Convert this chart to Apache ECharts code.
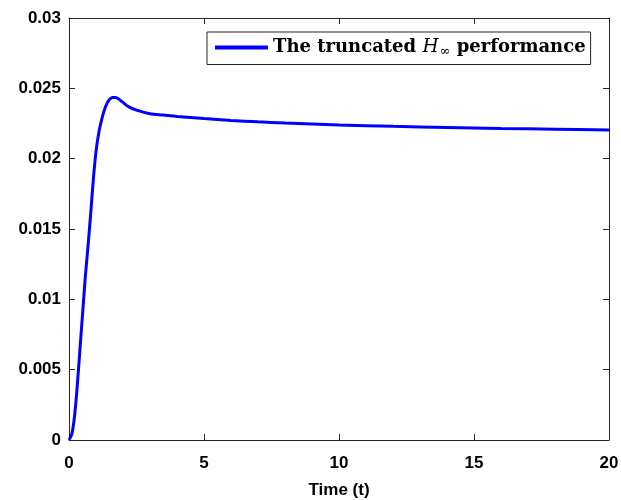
<!DOCTYPE html>
<html>
<head>
<meta charset="utf-8">
<script src="https://cdn.jsdelivr.net/npm/echarts@6/dist/echarts.min.js"></script>
<style>
  html, body { margin: 0; padding: 0; background: #fff; }
  #chart { width: 621px; height: 500px; }
</style>
</head>
<body>
<div id="chart"></div>
<script>
// Truncated H-infinity performance over time
const timeValues = [0, 0.1, 0.2, 0.3, 0.4, 0.5, 0.6, 0.7, 0.8, 0.9, 1.0, 1.1, 1.2, 1.3, 1.4, 1.5, 1.6, 1.7, 1.8, 2.0, 2.2, 2.5, 3.0, 3.5, 4, 5, 6, 7, 8, 10, 12, 14, 16, 18, 20];
const performanceValues = [0, 0.0004, 0.0016, 0.0037, 0.0063, 0.0089, 0.0115, 0.0137, 0.0160, 0.0185, 0.0205, 0.0218, 0.0227, 0.0234, 0.0239, 0.0242, 0.02435, 0.02435, 0.0243, 0.0240, 0.0237, 0.02345, 0.0232, 0.0231, 0.02300, 0.02285, 0.02272, 0.02262, 0.02254, 0.02240, 0.02230, 0.02222, 0.02215, 0.02210, 0.02203];
const xTicks = { min: 0, max: 20, interval: 5 };
const yTicks = { min: 0, max: 0.03, interval: 0.005 };
const seriesName = 'The truncated H∞ performance';

const points = timeValues.map((t, i) => [t, performanceValues[i]]);

const axisColor = '#262626';
const labelFont = { fontFamily: 'Liberation Sans, Arial, sans-serif', fontWeight: 'bold', fontSize: 17, color: '#000' };

const chart = echarts.init(document.getElementById('chart'), null, { renderer: 'canvas' });
chart.setOption({
  animation: false,
  backgroundColor: '#fff',
  grid: { left: 69, right: 12, top: 18, bottom: 60, outerBoundsMode: 'none', containLabel: false },
  legend: {
    left: 207, top: 32,
    orient: 'horizontal',
    backgroundColor: '#fff',
    borderColor: axisColor,
    borderWidth: 1,
    borderRadius: 0,
    padding: [6, 5, 6, 8],
    itemWidth: 53,
    itemHeight: 4,
    itemGap: 4,
    icon: 'rect',
    data: [seriesName],
    formatter: () => '{t|The truncated }{h|H}{s|∞}{t| performance}',
    textStyle: {
      rich: {
        t: { fontFamily: 'DejaVu Serif, serif', fontWeight: 'bold', fontSize: 18, color: '#000' },
        h: { fontFamily: 'DejaVu Serif, serif', fontStyle: 'italic', fontSize: 18.5, color: '#000' },
        s: { fontFamily: 'DejaVu Serif, serif', fontSize: 13, color: '#000', verticalAlign: 'bottom', padding: [9, 0, 0, 1] }
      }
    }
  },
  xAxis: [{
    type: 'value',
    min: xTicks.min, max: xTicks.max, interval: xTicks.interval,
    name: 'Time (t)',
    nameLocation: 'middle',
    nameGap: 42,
    nameTextStyle: labelFont,
    axisLine: { show: true, onZero: false, lineStyle: { color: axisColor, width: 1 } },
    axisTick: { show: true, inside: true, length: 6, lineStyle: { color: axisColor } },
    axisLabel: Object.assign({ margin: 15 }, labelFont),
    splitLine: { show: false }
  }, {
    type: 'value', position: 'top',
    min: xTicks.min, max: xTicks.max, interval: xTicks.interval,
    axisLine: { show: true, onZero: false, lineStyle: { color: axisColor, width: 1 } },
    axisTick: { show: true, inside: true, length: 6, lineStyle: { color: axisColor } },
    axisLabel: { show: false },
    splitLine: { show: false }
  }],
  yAxis: [{
    type: 'value',
    min: yTicks.min, max: yTicks.max, interval: yTicks.interval,
    axisLine: { show: true, onZero: false, lineStyle: { color: axisColor, width: 1 } },
    axisTick: { show: true, inside: true, length: 6, lineStyle: { color: axisColor } },
    axisLabel: Object.assign({ margin: 8, formatter: v => String(parseFloat(v.toFixed(3))) }, labelFont),
    splitLine: { show: false }
  }, {
    type: 'value', position: 'right',
    min: yTicks.min, max: yTicks.max, interval: yTicks.interval,
    axisLine: { show: true, onZero: false, lineStyle: { color: axisColor, width: 1 } },
    axisTick: { show: true, inside: true, length: 6, lineStyle: { color: axisColor } },
    axisLabel: { show: false },
    splitLine: { show: false }
  }],
  series: [{
    name: seriesName,
    type: 'line',
    data: points,
    showSymbol: false,
    smooth: 0.3,
    color: '#0000ff',
    lineStyle: { color: '#0000ff', width: 3 }
  }]
});
</script>
</body>
</html>
